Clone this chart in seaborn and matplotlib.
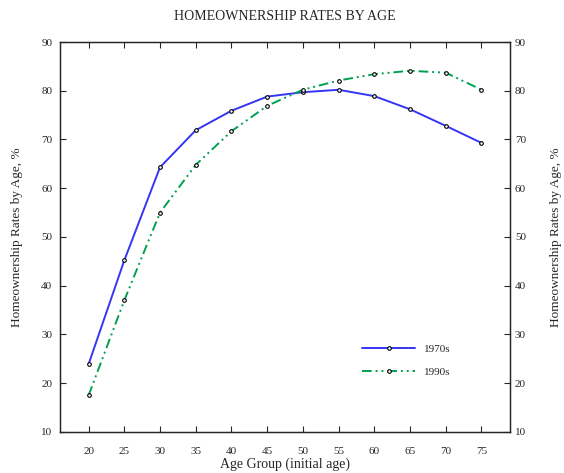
import pandas as pd
import matplotlib
matplotlib.use("Agg")
import matplotlib.pyplot as plt
import seaborn as sns

ages = [20, 25, 30, 35, 40, 45, 50, 55, 60, 65, 70, 75]
rates_1970s = [23.9, 45.2, 64.3, 71.9, 75.9, 78.8, 79.7, 80.2, 78.9, 76.2, 72.8, 69.3]
rates_1990s = [17.5, 37.0, 55.0, 64.8, 71.7, 76.9, 80.2, 82.1, 83.4, 84.1, 83.7, 80.2]
yticks = [10, 20, 30, 40, 50, 60, 70, 80, 90]

df = pd.DataFrame({
    "age": ages * 2,
    "rate": rates_1970s + rates_1990s,
    "period": ["1970s"] * len(ages) + ["1990s"] * len(ages),
})

sns.set_style("ticks")
plt.rcParams["font.family"] = ["Liberation Serif", "DejaVu Serif"]
plt.rcParams["xtick.direction"] = "in"
plt.rcParams["ytick.direction"] = "in"

fig = plt.figure(figsize=(5.64, 4.73), dpi=100)
ax = fig.add_axes([0.1064, 0.0867, 0.7979, 0.8245])

sns.lineplot(data=df, x="age", y="rate", hue="period", style="period",
             palette={"1970s": "#3535f5", "1990s": "#00a050"},
             dashes={"1970s": "", "1990s": (5, 2, 1, 2, 1, 2)},
             marker="o", markersize=2.6, markeredgecolor="black",
             markerfacecolor="white", markeredgewidth=0.8,
             linewidth=1.4, ax=ax)

ax.set_xlim(16, 79)
ax.set_ylim(10, 90)
ax.set_xticks(ages)
ax.set_yticks(yticks)
ax.tick_params(axis="x", labelsize=8, length=4, top=True, pad=11)
ax.tick_params(axis="y", labelsize=8, length=4, right=False, pad=5.5)
ax.set_xlabel("Age Group (initial age)", fontsize=10, labelpad=1)
ax.set_ylabel("Homeownership Rates by Age, %", fontsize=9.5, labelpad=13)
ax.set_title("HOMEOWNERSHIP RATES BY AGE", fontsize=10, pad=16)
for s in ax.spines.values():
    s.set_visible(True)
    s.set_linewidth(1.0)

ax2 = ax.twinx()
ax2.set_ylim(10, 90)
ax2.set_yticks(yticks)
ax2.tick_params(axis="y", labelsize=8, length=4, direction="in")
ax2.set_ylabel("Homeownership Rates by Age, %", fontsize=9.5, labelpad=17)

leg = ax.legend(title=None, frameon=False, fontsize=8, handlelength=4.8,
                loc="center", bbox_to_anchor=(0.77, 0.183),
                labelspacing=1.25)

fig.savefig("out.png", dpi=100)
